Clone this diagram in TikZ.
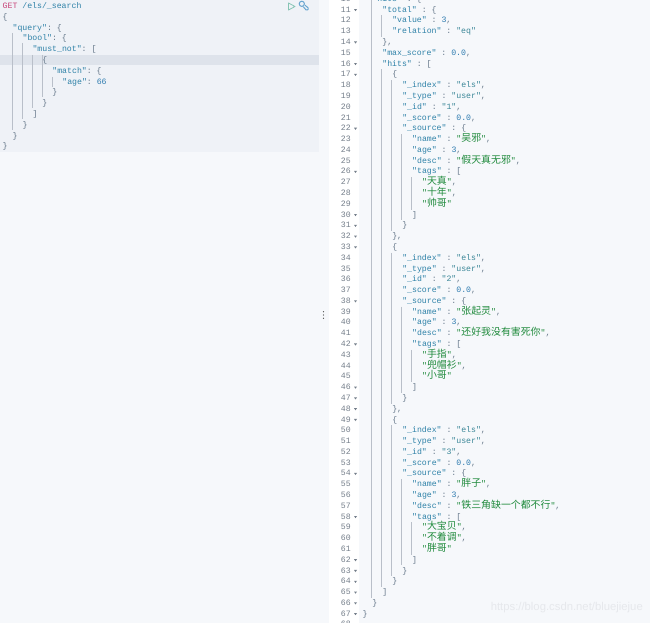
\documentclass[tikz,border=0pt]{standalone}
\usepackage{fontspec}
\setmonofont{Liberation Mono}
\setsansfont{Liberation Sans}
\newfontfamily\cjk{Noto Sans CJK SC}
\definecolor{pagebg}{HTML}{F6F8FB}
\definecolor{panelbg}{HTML}{EFF2F7}
\definecolor{activebg}{HTML}{DEE3EB}
\definecolor{guidegray}{HTML}{B9BFC9}
\definecolor{numgray}{HTML}{747E8A}
\definecolor{jsonkey}{HTML}{2F82A8}
\definecolor{jsonstr}{HTML}{3B8798}
\definecolor{jsonnum}{HTML}{2F7CB0}
\definecolor{jsonpun}{HTML}{66788A}
\definecolor{jsoncn}{HTML}{1F8A3C}
\definecolor{getpink}{HTML}{C8457A}
\definecolor{markgray}{HTML}{E6E8EC}
\definecolor{playgreen}{HTML}{86C4B4}
\definecolor{toolblue}{HTML}{69A6D0}
\tikzset
{
    jtext/.style   = {anchor=mid west, inner sep=0pt, font=\ttfamily\fontsize{8.2}{10}\selectfont, text=jsonpun},
    jnumber/.style = {anchor=mid east, inner sep=0pt, font=\ttfamily\fontsize{8.2}{10}\selectfont, text=numgray},
    guide/.style   = {guidegray, line width=0.8pt}
}
\newcommand{\jkey}[1]{\textcolor{jsonkey}{"#1"}}
\newcommand{\jstr}[1]{\textcolor{jsonstr}{"#1"}}
\newcommand{\jnum}[1]{\textcolor{jsonnum}{#1}}
\newcommand{\jcn}[1]{\textcolor{jsoncn}{"{\cjk\fontsize{9.9}{10}\selectfont #1}"}}
% right pane: line number, indent in characters, text
\newcommand{\jline}[3]{%
    \pgfmathtruncatemacro{\lineno}{#1}%
    \pgfmathsetmacro{\liney}{10+(\lineno-11)*10.786}%
    \node (r\lineno) [jtext] at ({362.3+#2*4.97},\liney) {#3};%
}
% left pane
\newcommand{\qline}[3]{%
    \pgfmathsetmacro{\liney}{6.3+(#1-1)*10.8}%
    \node (l#1) [jtext] at ({2.5+#2*4.97},\liney) {#3};%
}

\begin{document}
\begin{tikzpicture}[x=1pt, y=-1pt]
\useasboundingbox (0,0) rectangle (650,623);
\clip (0,0) rectangle (650,623);

%% panes
\fill[pagebg] (0,0) rectangle (650,623);
\fill[panelbg] (0,0) rectangle (319,152);
\fill[activebg] (0,55) rectangle (319,65);
\fill[white] (329,0) rectangle (359,623);

%% request
\foreach \gx/\ga/\gb in {12/33/130, 22/43/119, 32/55/108, 42/55/97, 52/77/87}
    \draw[guide] (\gx,\ga) -- (\gx,\gb);
\qline{1}{0}{\textcolor{getpink}{GET} \textcolor{jsonkey}{/els/\_search}}
\qline{2}{0}{\{}
\qline{3}{2}{\jkey{query}: \{}
\qline{4}{4}{\jkey{bool}: \{}
\qline{5}{6}{\jkey{must\_not}: [}
\qline{6}{8}{\{}
\qline{7}{10}{\jkey{match}: \{}
\qline{8}{12}{\jkey{age}: \jnum{66}}
\qline{9}{10}{\}}
\qline{10}{8}{\}}
\qline{11}{6}{]}
\qline{12}{4}{\}}
\qline{13}{2}{\}}
\qline{14}{0}{\}}

%% run and settings icons
\draw[playgreen, line width=0.8pt, line join=round] (288.5,3) -- (295,6.5) -- (288.5,10) -- cycle;
\draw[toolblue, line width=1pt] (301.8,3.8) circle (2.6);
\draw[toolblue, line width=1pt, rounded corners=1pt] (303.2,6.6) -- (306.6,10.6) -- (309,8.6) -- (305,5.2);

%% pane handle
\foreach \dy in {311.7,315,318.3}
    \fill[black!75] (323.5,\dy) circle (0.65);

%% line numbers of the response
\foreach \n in {10,...,68} {
    \pgfmathsetmacro{\liney}{10+(\n-11)*10.786}
    \node (n\n) [jnumber] at (351,\liney) {\n};
}
\foreach \n in {11,14,16,17,22,26,30,31,32,33,38,42,46,47,48,49,54,58,62,63,64,65,66,67} {
    \pgfmathsetmacro{\liney}{10+(\n-11)*10.786}
    \fill[numgray] (354,\liney-0.9) -- (357,\liney-0.9) -- (355.5,\liney+1.2) -- cycle;
}

%% indent guides: x, first line, last line
\foreach \gx/\ga/\gb in {371.7/10/65, 381.7/12/13, 381.7/17/64,
    391.7/18/31, 391.7/34/47, 391.7/50/63,
    401.7/23/30, 401.7/39/46, 401.7/55/62,
    411.7/27/29, 411.7/43/45, 411.7/59/61}
    \draw[guide] (\gx,{10+(\ga-11)*10.786-5.4}) -- (\gx,{10+(\gb-11)*10.786+5.4});

%% response
\jline{10}{2}{\jkey{hits} : \{}
\jline{11}{4}{\jkey{total} : \{}
\jline{12}{6}{\jkey{value} : \jnum{3},}
\jline{13}{6}{\jkey{relation} : \jstr{eq}}
\jline{14}{4}{\},}
\jline{15}{4}{\jkey{max\_score} : \jnum{0.0},}
\jline{16}{4}{\jkey{hits} : [}

\foreach \base/\hitid/\hitname/\hitdesc/\taga/\tagb/\tagc in {
    17/1/吴邪/假天真无邪/天真/十年/帅哥,
    33/2/张起灵/还好我没有害死你/手指/兜帽衫/小哥,
    49/3/胖子/铁三角缺一个都不行/大宝贝/不着调/胖哥} {
    \jline{\base}{6}{\{}
    \jline{\base+1}{8}{\jkey{\_index} : \jstr{els},}
    \jline{\base+2}{8}{\jkey{\_type} : \jstr{user},}
    \jline{\base+3}{8}{\jkey{\_id} : \jstr{\hitid},}
    \jline{\base+4}{8}{\jkey{\_score} : \jnum{0.0},}
    \jline{\base+5}{8}{\jkey{\_source} : \{}
    \jline{\base+6}{10}{\jkey{name} : \jcn{\hitname},}
    \jline{\base+7}{10}{\jkey{age} : \jnum{3},}
    \jline{\base+8}{10}{\jkey{desc} : \jcn{\hitdesc},}
    \jline{\base+9}{10}{\jkey{tags} : [}
    \jline{\base+10}{12}{\jcn{\taga},}
    \jline{\base+11}{12}{\jcn{\tagb},}
    \jline{\base+12}{12}{\jcn{\tagc}}
    \jline{\base+13}{10}{]}
    \jline{\base+14}{8}{\}}
}
\jline{32}{6}{\},}
\jline{48}{6}{\},}
\jline{64}{6}{\}}
\jline{65}{4}{]}
\jline{66}{2}{\}}
\jline{67}{0}{\}}

%% watermark
\node (mark) [anchor=mid east, inner sep=0pt, text=markgray, font=\sffamily\fontsize{11.3}{12}\selectfont] at (643,608) {https://blog.csdn.net/bluejiejue};
\end{tikzpicture}
\end{document}
